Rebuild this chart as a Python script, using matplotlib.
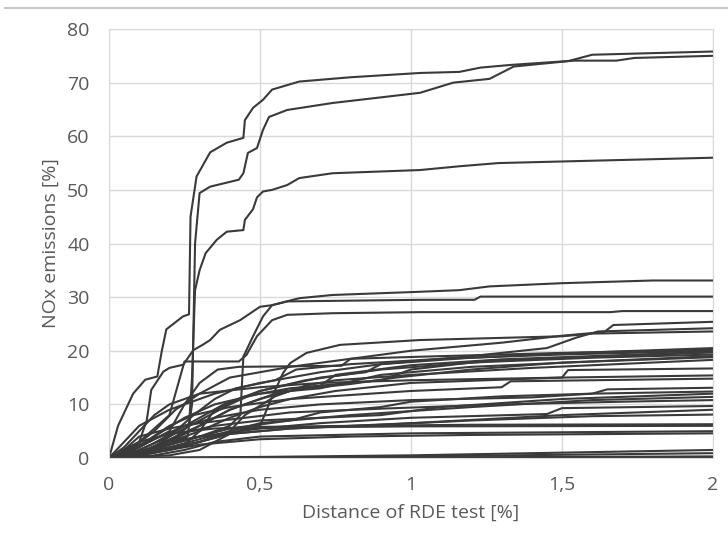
import numpy as np
import matplotlib.pyplot as plt
from matplotlib.lines import Line2D

plt.rcParams['font.family'] = ['Open Sans', 'DejaVu Sans']

# cumulative NOx curves: distance [%] and NOx [%]
dist_a = [0, 0.03, 0.08, 0.12, 0.16, 0.175, 0.19, 0.245, 0.265, 0.27, 0.29, 0.335, 0.39, 0.445, 0.45, 0.477, 0.51, 0.54, 0.63, 0.8, 1.03, 1.16, 1.23, 1.33, 1.54, 1.68, 1.74, 2.0]
nox_a = [0, 6, 12, 14.6, 15.2, 20, 24, 26.4, 26.8, 45, 52.5, 57, 58.8, 59.7, 63, 65.3, 66.8, 68.7, 70.2, 71, 71.8, 72, 72.8, 73.3, 74.1, 74.1, 74.6, 75]
dist_b = [0, 0.1, 0.2, 0.26, 0.275, 0.285, 0.30, 0.335, 0.43, 0.445, 0.46, 0.49, 0.51, 0.53, 0.59, 0.74, 1.03, 1.14, 1.26, 1.34, 1.52, 1.60, 2.0]
nox_b = [0, 1, 2.5, 4, 10, 40, 49.4, 50.6, 51.9, 53.1, 56.9, 57.8, 61.2, 63.6, 64.9, 66.2, 68.1, 70, 70.7, 73, 74, 75.2, 75.8]
dist_c = [0, 0.1, 0.2, 0.265, 0.275, 0.285, 0.30, 0.32, 0.357, 0.39, 0.445, 0.45, 0.477, 0.49, 0.51, 0.54, 0.59, 0.63, 0.74, 1.03, 1.16, 1.29, 2.0]
nox_c = [0, 1, 3, 6, 15, 31.3, 35, 38.2, 40.7, 42.2, 42.5, 44.4, 46.4, 48.6, 49.7, 50, 50.9, 52.2, 53.1, 53.7, 54.4, 55, 56]
dist_d = [0, 0.05, 0.1, 0.125, 0.14, 0.18, 0.2, 0.246, 0.279, 0.31, 0.335, 0.367, 0.434, 0.5, 0.54, 0.63, 0.74, 1.03, 1.16, 1.26, 1.5, 1.8, 2.0]
nox_d = [0, 1, 3, 7, 12.7, 16.1, 16.8, 17.4, 20.1, 21.1, 22, 23.9, 25.7, 28.2, 28.5, 29.8, 30.4, 31, 31.3, 32, 32.6, 33.1, 33.1]
dist_e = [0, 0.1, 0.2, 0.3, 0.4, 0.435, 0.445, 0.477, 0.51, 0.54, 0.59, 1.03, 1.21, 1.23, 2.0]
nox_e = [0, 1, 2.5, 4, 6, 8, 18.9, 22.7, 26.4, 28.5, 29.2, 29.5, 29.5, 30.1, 30.1]
dist_f = [0, 0.1, 0.2, 0.25, 0.43, 0.455, 0.49, 0.54, 0.59, 0.74, 1.03, 1.66, 1.7, 2.0]
nox_f = [0, 3, 8, 18, 18, 19.2, 22.7, 25.7, 26.7, 27, 27.2, 27.2, 27.4, 27.4]
dist_g = [0, 0.1, 0.2, 0.3, 0.4, 0.5, 0.54, 0.576, 0.6, 0.654, 0.765, 1.03, 1.5, 1.6, 2.0]
nox_g = [0, 0.5, 1.5, 3, 4.5, 6, 11.4, 15.8, 17.7, 19.6, 21.1, 22, 22.7, 23.2, 23.6]
dist_h = [0, 0.08, 0.15, 0.22, 0.3, 0.4, 0.6, 0.8, 1.0, 1.3, 1.5, 1.64, 1.67, 2.0]
nox_h = [0, 2, 5, 9, 12, 15, 17, 18.5, 20, 21.5, 22.8, 23.5, 24.8, 25.4]
dist_i = [0, 0.1, 0.2, 0.3, 0.4, 0.5, 0.7, 0.85, 0.9, 1.2, 1.45, 1.55, 1.62, 2.0]
nox_i = [0, 1.5, 4, 7, 10, 12.5, 15, 16, 17.5, 19, 20.5, 22.5, 23.6, 24.2]
dist_j = [0, 0.05, 0.1, 0.2, 0.3, 0.35, 0.5, 0.7, 0.9, 1.2, 1.5, 2.0]
nox_j = [0, 3, 6, 9, 11, 12, 14, 16, 17.5, 18.7, 19.5, 20.5]
dist_k = [0, 0.1, 0.2, 0.25, 0.3, 0.36, 0.43, 0.77, 0.8, 1.1, 1.5, 2.0]
nox_k = [0, 2, 5, 10, 14, 16.5, 17, 17.2, 18.5, 19, 19.6, 20.2]
dist_l = [0, 0.1, 0.2, 0.3, 0.4, 0.55, 0.7, 0.75, 1.0, 1.3, 1.6, 2.0]
nox_l = [0, 1, 3, 6, 9, 12, 13.5, 15.5, 17.3, 18.4, 19, 19.8]
dist_m = [0, 0.15, 0.25, 0.3, 0.35, 0.45, 0.6, 0.9, 1.0, 1.2, 1.6, 2.0]
nox_m = [0, 1, 2.5, 5, 9, 11.5, 13, 14.5, 16.5, 17.8, 18.7, 19.3]
dist_n = [0, 0.1, 0.15, 0.25, 0.35, 0.5, 0.8, 0.95, 1.2, 1.5, 2.0]
nox_n = [0, 2, 4, 7.5, 10, 12, 13.8, 15, 16.5, 17.8, 18.8]
dist_o = [0, 0.2, 0.3, 0.4, 0.45, 0.55, 0.65, 0.75, 1.0, 1.4, 2.0]
nox_o = [0, 1.5, 3, 5, 8, 11.5, 13.5, 14.5, 15.5, 16.8, 18.3]
dist_p = [0, 0.1, 0.2, 0.3, 0.4, 0.5, 0.6, 0.75, 1.0, 1.5, 1.52, 2.0]
nox_p = [0, 1, 3, 5, 7.5, 9.5, 11, 12.5, 14, 15, 16.4, 16.7]
dist_q = [0, 0.05, 0.1, 0.15, 0.2, 0.3, 0.5, 0.7, 1.0, 1.5, 2.0]
nox_q = [0, 2, 5, 8, 10, 12, 13.2, 14, 14.5, 15, 15.4]
dist_r = [0, 0.1, 0.2, 0.3, 0.4, 0.6, 0.7, 0.9, 1.0, 1.3, 1.6, 1.65, 2.0]
nox_r = [0, 1, 2.5, 4, 5.5, 7, 8.5, 9.5, 10.5, 11.5, 12, 12.8, 13.1]
dist_s = [0, 0.08, 0.15, 0.25, 0.35, 0.5, 0.7, 1.0, 1.4, 1.6, 2.0]
nox_s = [0, 1.5, 3.5, 6, 7.5, 9, 10, 10.8, 11.3, 12, 12.4]
dist_t = [0, 0.1, 0.2, 0.3, 0.4, 0.5, 0.8, 1.2, 1.6, 2.0]
nox_t = [0, 1, 2, 3.5, 5, 6.5, 8, 9.5, 10.8, 11.4]
dist_u = [0, 0.05, 0.1, 0.2, 0.3, 0.45, 0.6, 0.9, 1.3, 1.7, 2.0]
nox_u = [0, 1.5, 4, 5.5, 6.5, 7.5, 8.5, 9.2, 10, 10.5, 10.8]
dist_v = [0, 0.1, 0.2, 0.3, 0.5, 0.7, 1.0, 1.45, 1.5, 2.0]
nox_v = [0, 1, 2.5, 4, 5.5, 6.5, 7.5, 8.2, 9.3, 9.7]
dist_w = [0, 0.1, 0.2, 0.3, 0.4, 0.6, 0.9, 1.2, 1.6, 2.0]
nox_w = [0, 0.8, 2, 3, 4.5, 5.5, 6.2, 7, 7.8, 8.1]
dist_x = [0, 0.05, 0.1, 0.2, 0.3, 0.35, 0.5, 0.8, 1.2, 2.0]
nox_x = [0, 1.5, 3, 4.5, 5.2, 5.5, 5.8, 6, 6.2, 6.3]
dist_y = [0, 0.1, 0.15, 0.2, 0.3, 0.4, 0.45, 0.6, 1.0, 2.0]
nox_y = [0, 0.5, 1.5, 3, 4, 4.5, 5.5, 5.7, 5.9, 6.0]
dist_z = [0, 0.1, 0.2, 0.3, 0.5, 0.8, 1.2, 2.0]
nox_z = [0, 0.5, 1.5, 2.5, 3.5, 4, 4.3, 4.6]
dist_ext1 = [0, 0.12, 0.2, 0.28, 0.35, 0.42, 0.55, 0.62, 0.8, 1.1, 1.5, 2.0]
nox_ext1 = [0, 1, 4, 8, 11, 13, 14.5, 16.5, 17.5, 18.5, 19.3, 20.0]
dist_ext2 = [0, 0.15, 0.22, 0.3, 0.4, 0.5, 0.6, 0.7, 0.9, 1.2, 2.0]
nox_ext2 = [0, 2, 4, 6, 9, 11, 12.5, 13, 15.5, 17, 19.0]
dist_ext3 = [0, 0.1, 0.18, 0.27, 0.35, 0.5, 0.9, 1.1, 1.5, 2.0]
nox_ext3 = [0, 1, 3, 5, 6, 7, 8, 9.5, 11, 12]
dist_ext4 = [0, 0.2, 0.3, 0.35, 0.4, 0.6, 1.0, 1.5, 2.0]
nox_ext4 = [0, 0.5, 1.5, 3, 4.5, 5.5, 6.5, 8, 9]
dist_ext5 = [0, 0.05, 0.12, 0.2, 0.28, 0.4, 0.6, 1.0, 1.3, 1.33, 2.0]
nox_ext5 = [0, 1, 3, 6, 8, 9.5, 11, 12.5, 13.2, 14.3, 14.8]
dist_ext6 = [0, 0.15, 0.25, 0.35, 0.5, 1.0, 2.0]
nox_ext6 = [0, 0.5, 1.5, 3, 4, 4.6, 5.0]
dist_ext7 = [0, 0.08, 0.14, 0.22, 0.3, 0.38, 0.5, 0.65, 0.9, 1.3, 2.0]
nox_ext7 = [0, 1, 2.5, 5, 7.5, 10, 12.5, 14.5, 16.5, 18.2, 19.7]
dist_low1 = [0, 0.5, 1.0, 1.5, 2.0]
nox_low1 = [0, 0.2, 0.5, 1.0, 1.5]
dist_low2 = [0, 0.5, 1.0, 2.0]
nox_low2 = [0, 0.1, 0.3, 0.9]
dist_low3 = [0, 1.0, 2.0]
nox_low3 = [0, 0.1, 0.3]
dist_low4 = [0, 2.0]
nox_low4 = [0, 0.1]

curves = [
    (dist_a, nox_a), (dist_b, nox_b), (dist_c, nox_c), (dist_d, nox_d),
    (dist_e, nox_e), (dist_f, nox_f), (dist_g, nox_g), (dist_h, nox_h),
    (dist_i, nox_i), (dist_j, nox_j), (dist_k, nox_k), (dist_l, nox_l),
    (dist_m, nox_m), (dist_n, nox_n), (dist_o, nox_o), (dist_p, nox_p),
    (dist_q, nox_q), (dist_r, nox_r), (dist_s, nox_s), (dist_t, nox_t),
    (dist_u, nox_u), (dist_v, nox_v), (dist_w, nox_w), (dist_x, nox_x),
    (dist_y, nox_y), (dist_z, nox_z),
    (dist_ext1, nox_ext1), (dist_ext2, nox_ext2), (dist_ext3, nox_ext3),
    (dist_ext4, nox_ext4), (dist_ext5, nox_ext5), (dist_ext6, nox_ext6),
    (dist_ext7, nox_ext7),
    (dist_low1, nox_low1), (dist_low2, nox_low2), (dist_low3, nox_low3),
    (dist_low4, nox_low4),
]

x_ticks = [0, 0.5, 1, 1.5, 2]
x_tick_labels = ['0', '0,5', '1', '1,5', '2']
y_ticks = [0, 10, 20, 30, 40, 50, 60, 70, 80]

grid_c = '#d9d9d9'
text_c = '#595959'

fig = plt.figure(figsize=(7.28, 5.33), dpi=100)
ax = fig.add_axes([0.1497, 0.1407, 0.8297, 0.8049])

for xs, ys in curves:
    ax.plot(xs, ys, color='#3a3a3a', lw=1.5, solid_joinstyle='round')

ax.set_xlim(0, 2)
ax.set_ylim(0, 80)
ax.set_xticks(x_ticks)
ax.set_xticklabels(x_tick_labels)
ax.set_yticks(y_ticks)
ax.grid(True, color=grid_c, lw=1)
ax.set_axisbelow(True)
for s in ax.spines.values():
    s.set_color(grid_c)
ax.tick_params(length=0, labelsize=14, labelcolor=text_c)
ax.tick_params(axis='x', pad=13)
ax.tick_params(axis='y', pad=14)

ax.set_xlabel('Distance of RDE test [%]', fontsize=14, color=text_c, labelpad=7)
ax.set_ylabel('NOx emissions [%]', fontsize=14, color=text_c, labelpad=5)

# thin border line across the top
fig.add_artist(Line2D([0.007, 1.0], [0.985, 0.985], color='#c8c8c8', lw=1.5))

fig.savefig('out.png', dpi=100)
